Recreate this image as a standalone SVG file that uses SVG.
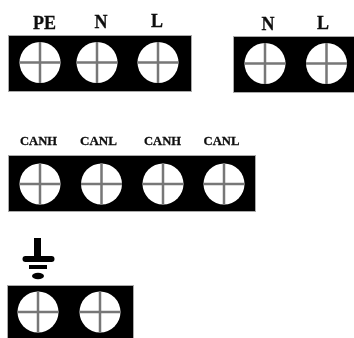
<svg xmlns="http://www.w3.org/2000/svg" width="354" height="338" viewBox="0 0 354 338">
<style>
.box{fill:#000;stroke:#aaa;stroke-width:1}
.hole{fill:#fff}
.cross{stroke:#777;stroke-width:2.500;fill:none}
.lbl{font-family:"Liberation Serif",serif;font-weight:bold;fill:#111;stroke:#111;stroke-width:.3;text-anchor:middle}
.big{font-size:18px}
.small{font-size:13px}
.soft{filter:url(#soft)}
</style>
<defs>
<filter id="soft" x="-5%" y="-5%" width="110%" height="110%"><feGaussianBlur stdDeviation="0.5"/></filter>
<g id="t"><circle class="hole" r="20.500"/><path class="cross" d="M-20.500 0H20.500M0-20.500V20.500"/></g>
</defs>
<rect width="354" height="338" fill="#fff"/>
<g id="block-pe-n-l" class="soft">
<rect class="box" x="8.500" y="35.500" width="183" height="56"/>
<use href="#t" x="40" y="62.500"/><use href="#t" x="97" y="62.500"/><use href="#t" x="158" y="62.500"/>
<text class="lbl big" x="44.500" y="28.500">PE</text><text class="lbl big" x="101" y="28">N</text><text class="lbl big" x="157" y="27">L</text>
</g>
<g id="block-n-l" class="soft">
<rect class="box" x="233.500" y="36.500" width="125" height="56"/>
<use href="#t" x="265" y="63.500"/><use href="#t" x="326.500" y="63.500"/>
<text class="lbl big" x="268" y="29.500">N</text><text class="lbl big" x="323" y="28.500">L</text>
</g>
<g id="block-can" class="soft">
<rect class="box" x="8.500" y="155.500" width="247" height="56"/>
<use href="#t" x="40" y="184"/><use href="#t" x="101.500" y="184"/><use href="#t" x="163" y="184"/><use href="#t" x="224" y="184"/>
<text class="lbl small" x="38.500" y="144.500" textLength="37" lengthAdjust="spacingAndGlyphs">CANH</text><text class="lbl small" x="98.500" y="144.500" textLength="37" lengthAdjust="spacingAndGlyphs">CANL</text><text class="lbl small" x="162.500" y="144.500" textLength="37" lengthAdjust="spacingAndGlyphs">CANH</text><text class="lbl small" x="221.500" y="144.500" textLength="36" lengthAdjust="spacingAndGlyphs">CANL</text>
</g>
<g id="block-ground" class="soft">
<rect class="box" x="7.500" y="285.500" width="126" height="55"/>
<use href="#t" x="38" y="312"/><use href="#t" x="100" y="312"/>
<path d="M37.500 238V258" stroke="#000" stroke-width="7" fill="none"/>
<path d="M25.500 259H51.500" stroke="#000" stroke-width="6" stroke-linecap="round" fill="none"/>
<path d="M29 267H47" stroke="#000" stroke-width="4" fill="none"/>
<ellipse cx="38" cy="276" rx="6" ry="3.200"/>
</g>
</svg>
